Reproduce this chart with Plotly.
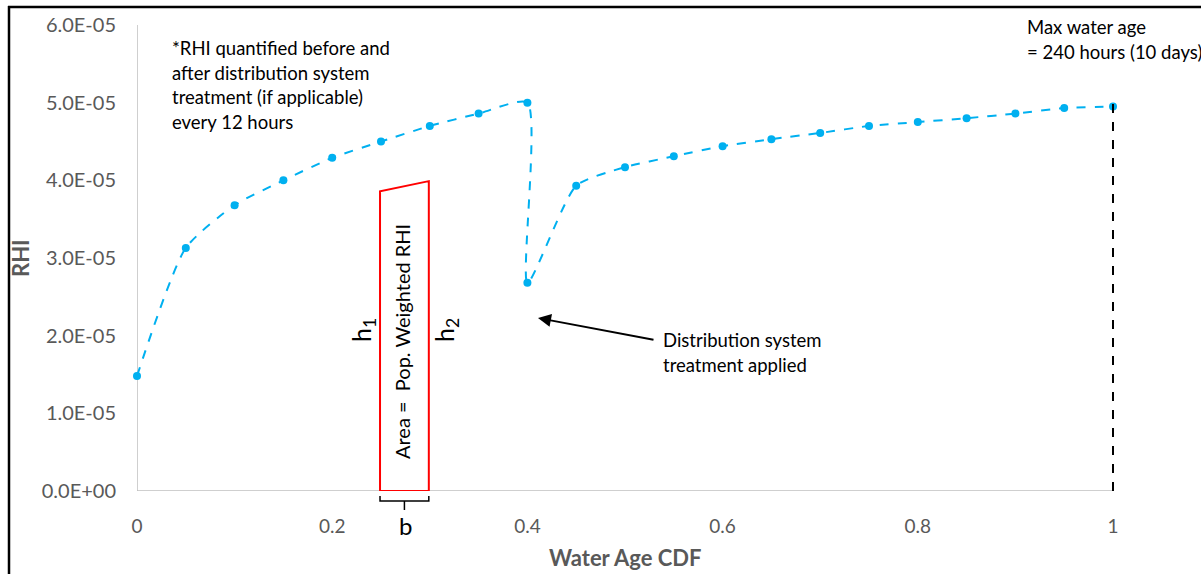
import plotly.graph_objects as go

# ---- data ----
cdf = [0, 0.05, 0.1, 0.15, 0.2, 0.25, 0.3, 0.35, 0.4, 0.4, 0.45, 0.5, 0.55, 0.6,
       0.65, 0.7, 0.75, 0.8, 0.85, 0.9, 0.95, 1.0]
rhi = [1.48e-5, 3.13e-5, 3.68e-5, 4.00e-5, 4.29e-5, 4.50e-5, 4.70e-5, 4.86e-5, 5.00e-5,
       2.68e-5, 3.93e-5, 4.17e-5, 4.31e-5, 4.44e-5, 4.53e-5, 4.61e-5, 4.70e-5, 4.75e-5,
       4.80e-5, 4.86e-5, 4.93e-5, 4.95e-5]

box_x = [0.249, 0.249, 0.299, 0.299, 0.249]
box_y = [0.0, 3.86e-5, 3.99e-5, 0.0, 0.0]

max_age_x = [1.0, 1.0]
max_age_y = [0.0, 5.1e-5]

y_tickvals = [0, 1e-5, 2e-5, 3e-5, 4e-5, 5e-5, 6e-5]
y_ticktext = ["0.0E+00", "1.0E-05", "2.0E-05", "3.0E-05", "4.0E-05", "5.0E-05", "6.0E-05"]
x_tickvals = [0, 0.2, 0.4, 0.6, 0.8, 1.0]
x_ticktext = ["0", "0.2", "0.4", "0.6", "0.8", "1"]

FONT = "Lato"
GRAY = "#595959"
W, H = 1201, 574
L, T, B = 137, 25, 83
PW, PH = W - L, H - T - B
XMAX = PW / 976.0
YMAX = 6e-5
TXT = 18.5


def px_x(p):
    return (p - L) / 976.0


def px_y(p):
    return (H - B - p) / PH * YMAX


def paper_y(p):
    return (H - p) / H


def paper_x(p):
    return p / W


fig = go.Figure()

fig.add_trace(go.Scatter(
    x=cdf, y=rhi, mode="lines+markers",
    line=dict(color="#00B0F0", width=2, dash="dash", shape="spline", smoothing=0.6),
    marker=dict(color="#00B0F0", size=8),
    showlegend=False, cliponaxis=False))

fig.add_trace(go.Scatter(
    x=box_x, y=box_y, mode="lines",
    line=dict(color="#FF0000", width=2), showlegend=False, cliponaxis=False))

fig.add_trace(go.Scatter(
    x=max_age_x, y=max_age_y, mode="lines",
    line=dict(color="#000000", width=2, dash="dash"), showlegend=False, cliponaxis=False))

fig.update_layout(
    width=W, height=H, autosize=False,
    margin=dict(l=0, r=0, t=0, b=0, pad=0, autoexpand=False),
    paper_bgcolor="white", plot_bgcolor="white",
    font=dict(family=FONT, size=16, color="black"),
    xaxis=dict(domain=[L / W, 1.0], range=[0, XMAX], tickvals=x_tickvals, ticktext=x_ticktext,
               showgrid=False, zeroline=False, showline=False, automargin=False,
               ticks="", ticklabelstandoff=22,
               tickfont=dict(family=FONT, size=19, color=GRAY)),
    yaxis=dict(domain=[B / H, (H - T) / H], range=[0, YMAX], tickvals=y_tickvals,
               ticktext=y_ticktext, automargin=False,
               showgrid=False, zeroline=False, showline=False,
               ticks="", ticklabelstandoff=20,
               tickfont=dict(family=FONT, size=20, color=GRAY)),
)

shapes = []
# axis lines
shapes.append(dict(type="line", xref="x", yref="y", x0=0, x1=1, y0=0, y1=0,
                   line=dict(color="#BFBFBF", width=1.5), layer="below"))
shapes.append(dict(type="line", xref="x", yref="y", x0=0, x1=0, y0=0, y1=YMAX,
                   line=dict(color="#BFBFBF", width=1.5), layer="below"))
# outer frame (left and top edges visible)
shapes.append(dict(type="line", xref="paper", yref="paper",
                   x0=paper_x(9), x1=paper_x(9), y0=0, y1=paper_y(6),
                   line=dict(color="black", width=2.5)))
shapes.append(dict(type="line", xref="paper", yref="paper",
                   x0=paper_x(8), x1=1, y0=paper_y(7), y1=paper_y(7),
                   line=dict(color="black", width=2.5)))
# bracket under the box
bx0, bx1, bxm = box_x[0], box_x[2], (box_x[0] + box_x[2]) / 2
shapes.append(dict(type="path", xref="x", yref="paper",
                   path=f"M {bx0},{paper_y(496)} L {bx0},{paper_y(501)} L {bx1},{paper_y(501)} L {bx1},{paper_y(496)}",
                   line=dict(color="black", width=1.5)))
shapes.append(dict(type="line", xref="x", yref="paper", x0=bxm, x1=bxm,
                   y0=paper_y(501), y1=paper_y(510), line=dict(color="black", width=1.5)))
fig.update_layout(shapes=shapes)

ann = []


def txt(text, px, py, xanchor="left", size=TXT, color="black", textangle=0, bold=False):
    if bold:
        text = f"<b>{text}</b>"
    ann.append(dict(text=text, xref="paper", yref="paper", x=paper_x(px), y=paper_y(py),
                    xanchor=xanchor, yanchor="middle", showarrow=False, textangle=textangle,
                    font=dict(family=FONT, size=size, color=color)))


note = ["*RHI quantified before and", "after distribution system",
        "treatment (if applicable)", "every 12 hours"]
for i, line in enumerate(note):
    txt(line, 170, 48 + i * 24.7)

txt("Max water age", 1025, 27)
txt("= 240 hours (10 days)", 1025, 52)
txt("Distribution system", 661, 340)
txt("treatment applied", 661, 365)

txt("h<sub>1</sub>", 363, 330, xanchor="center", size=25, textangle=-90)
txt("h<sub>2</sub>", 446, 330, xanchor="center", size=25, textangle=-90)
txt("Area =  Pop. Weighted RHI", 402, 342, xanchor="center", size=20, textangle=-90)
txt("b", 405, 525, xanchor="center", size=24)

txt("RHI", 20, 258, xanchor="center", size=22, color=GRAY, textangle=-90, bold=True)
txt("Water Age CDF", 625, 557, xanchor="center", size=22, color=GRAY, bold=True)

# arrow
ann.append(dict(x=px_x(538), y=px_y(318), ax=px_x(655), ay=px_y(340),
                xref="x", yref="y", axref="x", ayref="y", text="", showarrow=True,
                arrowhead=2, arrowsize=1.3, arrowwidth=2, arrowcolor="black"))

fig.update_layout(annotations=ann)

fig.write_html("out.html", config={"displayModeBar": False},
               post_script="document.body.style.margin='0';document.body.style.padding='0';")
